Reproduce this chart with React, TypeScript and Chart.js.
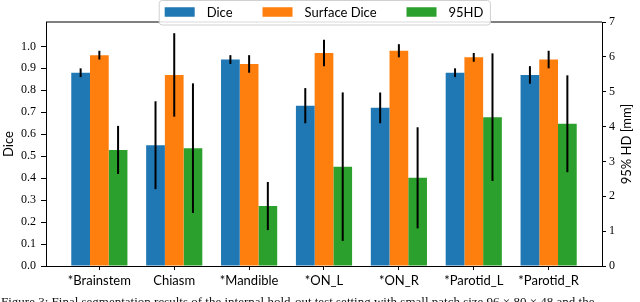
import React, { useEffect, useRef } from "react";
import { Chart, registerables } from "chart.js";

Chart.register(...registerables);

const categories = ["*Brainstem", "Chiasm", "*Mandible", "*ON_L", "*ON_R", "*Parotid_L", "*Parotid_R"];
const seriesLabels = ["Dice", "Surface Dice", "95HD"];
const seriesColors = ["#1f77b4", "#ff7f0e", "#2ca02c"];

const diceMean = [0.88, 0.55, 0.94, 0.73, 0.72, 0.88, 0.87];
const diceStd = [0.02, 0.2, 0.02, 0.08, 0.07, 0.02, 0.04];
const surfaceDiceMean = [0.96, 0.87, 0.92, 0.97, 0.98, 0.95, 0.94];
const surfaceDiceStd = [0.02, 0.19, 0.04, 0.06, 0.03, 0.02, 0.04];
const hd95Mean = [3.33, 3.38, 1.72, 2.85, 2.53, 4.27, 4.08];
const hd95Std = [0.69, 1.86, 0.69, 2.13, 1.45, 1.83, 1.39];

const diceTicks = [0, 0.1, 0.2, 0.3, 0.4, 0.5, 0.6, 0.7, 0.8, 0.9, 1.0];
const hdTicks = [0, 1, 2, 3, 4, 5, 6, 7];

const leftTitle = "Dice";
const rightTitle = "95% HD [mm]";
const caption =
  "Figure 3: Final segmentation results of the internal hold-out test setting with small patch size 96 \u00d7 80 \u00d7 48 and the";

const SANS = "Lato, 'DejaVu Sans', sans-serif";
const SERIF = "'Liberation Serif', 'DejaVu Serif', serif";

const errorBarPlugin = {
  id: "errorBars",
  afterDatasetsDraw(chart: any) {
    const ctx = chart.ctx;
    ctx.save();
    ctx.strokeStyle = "#000";
    ctx.lineWidth = 2;
    ctx.lineCap = "butt";
    chart.data.datasets.forEach((ds: any, i: number) => {
      const meta = chart.getDatasetMeta(i);
      const scale = chart.scales[meta.yAxisID];
      meta.data.forEach((el: any, j: number) => {
        const v = ds.data[j].y;
        const e = ds.errors[j];
        const y1 = scale.getPixelForValue(v - e);
        const y2 = scale.getPixelForValue(v + e);
        ctx.beginPath();
        ctx.moveTo(el.x, y1);
        ctx.lineTo(el.x, y2);
        ctx.stroke();
      });
    });
    ctx.restore();
  },
};

const framePlugin = {
  id: "frameLegend",
  afterDraw(chart: any) {
    const ctx = chart.ctx;
    const a = chart.chartArea;
    ctx.save();
    // top spine
    ctx.strokeStyle = "#000";
    ctx.lineWidth = 1;
    ctx.beginPath();
    ctx.moveTo(a.left, a.top);
    ctx.lineTo(a.right, a.top);
    ctx.stroke();

    // right axis title (reads bottom-to-top)
    ctx.fillStyle = "#000";
    ctx.font = "13px " + SANS;
    ctx.textAlign = "center";
    ctx.textBaseline = "middle";
    ctx.translate(627, (a.top + a.bottom) / 2);
    ctx.rotate(-Math.PI / 2);
    ctx.fillText(rightTitle, 0, 0);
    ctx.setTransform(1, 0, 0, 1, 0, 0);

    // legend
    ctx.font = "13px " + SANS;
    const patchW = 30;
    const patchH = 9.5;
    const gapText = 12;
    const gapItem = 30;
    const padL = 5.5;
    const padR = 7;
    const items = chart.data.datasets.map((ds: any) => ({
      label: ds.label,
      color: ds.backgroundColor,
      w: ctx.measureText(ds.label).width,
    }));
    let total = padL + padR;
    items.forEach((it: any, k: number) => {
      total += patchW + gapText + it.w + (k < items.length - 1 ? gapItem : 0);
    });
    const cx = (a.left + a.right) / 2 + 0.8;
    const bx = cx - total / 2;
    const by = 0.5;
    const bh = 24.5;
    const r = 3;
    ctx.beginPath();
    ctx.moveTo(bx + r, by);
    ctx.lineTo(bx + total - r, by);
    ctx.quadraticCurveTo(bx + total, by, bx + total, by + r);
    ctx.lineTo(bx + total, by + bh - r);
    ctx.quadraticCurveTo(bx + total, by + bh, bx + total - r, by + bh);
    ctx.lineTo(bx + r, by + bh);
    ctx.quadraticCurveTo(bx, by + bh, bx, by + bh - r);
    ctx.lineTo(bx, by + r);
    ctx.quadraticCurveTo(bx, by, bx + r, by);
    ctx.closePath();
    ctx.fillStyle = "rgba(255,255,255,0.85)";
    ctx.fill();
    ctx.strokeStyle = "#d0d0d0";
    ctx.lineWidth = 1;
    ctx.stroke();

    let x = bx + padL;
    const midY = 12;
    items.forEach((it: any) => {
      ctx.fillStyle = it.color;
      ctx.fillRect(x, midY - patchH / 2, patchW, patchH);
      x += patchW + gapText;
      ctx.fillStyle = "#000";
      ctx.textAlign = "left";
      ctx.textBaseline = "middle";
      ctx.fillText(it.label, x, midY + 0.5);
      x += it.w + gapItem;
    });
    ctx.restore();
  },
};

export default function App() {
  const canvasRef = useRef<HTMLCanvasElement | null>(null);

  useEffect(() => {
    const canvas = canvasRef.current;
    if (!canvas) return;
    const means = [diceMean, surfaceDiceMean, hd95Mean];
    const stds = [diceStd, surfaceDiceStd, hd95Std];
    const axes = ["y", "y", "y1"];
    const chart = new Chart(canvas, {
      type: "bar",
      data: {
        datasets: seriesLabels.map((label, i) => ({
          label,
          data: means[i].map((v, j) => ({ x: j, y: v })),
          errors: stds[i],
          backgroundColor: seriesColors[i],
          borderWidth: 0,
          yAxisID: axes[i],
          categoryPercentage: 0.75,
          barPercentage: 1,
        })) as any,
      },
      options: {
        animation: false,
        responsive: false,
        maintainAspectRatio: false,
        layout: { padding: { left: 0, right: 0, top: 22, bottom: 0 } },
        plugins: {
          legend: { display: false },
          tooltip: { enabled: false },
        },
        scales: {
          x: {
            type: "linear",
            min: -0.7125,
            max: 6.7125,
            offset: false,
            afterBuildTicks: (s: any) => {
              s.ticks = categories.map((_, i) => ({ value: i }));
            },
            afterFit: (s: any) => {
              s.height = 36;
            },
            ticks: {
              autoSkip: false,
              maxRotation: 0,
              minRotation: 0,
              padding: 3,
              color: "#000",
              font: { family: SANS, size: 13 },
              callback: (v: any) => categories[Math.round(Number(v))] ?? "",
            },
            grid: {
              display: true,
              offset: false,
              drawOnChartArea: false,
              drawTicks: true,
              tickLength: 4,
              color: "#000",
              lineWidth: 1,
            },
            border: { display: true, color: "#000", width: 1 },
          },
          y: {
            type: "linear",
            position: "left",
            min: 0,
            max: 1.111,
            afterBuildTicks: (s: any) => {
              s.ticks = diceTicks.map((v) => ({ value: v }));
            },
            afterFit: (s: any) => {
              s.width = 46;
            },
            ticks: {
              padding: 5,
              color: "#000",
              font: { family: SERIF, size: 12 },
              callback: (v: any) => Number(v).toFixed(1),
            },
            grid: {
              display: true,
              drawOnChartArea: false,
              drawTicks: true,
              tickLength: 5,
              color: "#000",
              lineWidth: 1,
            },
            border: { display: true, color: "#000", width: 1 },
            title: {
              display: true,
              text: leftTitle,
              color: "#000",
              font: { family: SANS, size: 13 },
              padding: { top: 1, bottom: 0 },
            },
          },
          y1: {
            type: "linear",
            position: "right",
            min: 0,
            max: 7,
            afterBuildTicks: (s: any) => {
              s.ticks = hdTicks.map((v) => ({ value: v }));
            },
            afterFit: (s: any) => {
              s.width = 38;
            },
            ticks: {
              padding: 3,
              color: "#000",
              font: { family: SERIF, size: 12 },
              callback: (v: any) => String(Math.round(Number(v))),
            },
            grid: {
              display: true,
              drawOnChartArea: false,
              drawTicks: true,
              tickLength: 4,
              color: "#000",
              lineWidth: 1,
            },
            border: { display: true, color: "#000", width: 1 },
          },
        },
      } as any,
      plugins: [errorBarPlugin, framePlugin],
    });
    return () => chart.destroy();
  }, []);

  return (
    <div
      style={{
        position: "fixed",
        left: 0,
        top: 0,
        width: 640,
        height: 302,
        overflow: "hidden",
        background: "#fff",
      }}
    >
      <canvas ref={canvasRef} width={640} height={302} style={{ display: "block" }} />
      <div
        style={{
          position: "absolute",
          left: 1,
          top: 294,
          lineHeight: "15px",
          whiteSpace: "nowrap",
          fontFamily: SERIF,
          fontSize: 13,
          color: "#111",
        }}
      >
        {caption}
      </div>
    </div>
  );
}
